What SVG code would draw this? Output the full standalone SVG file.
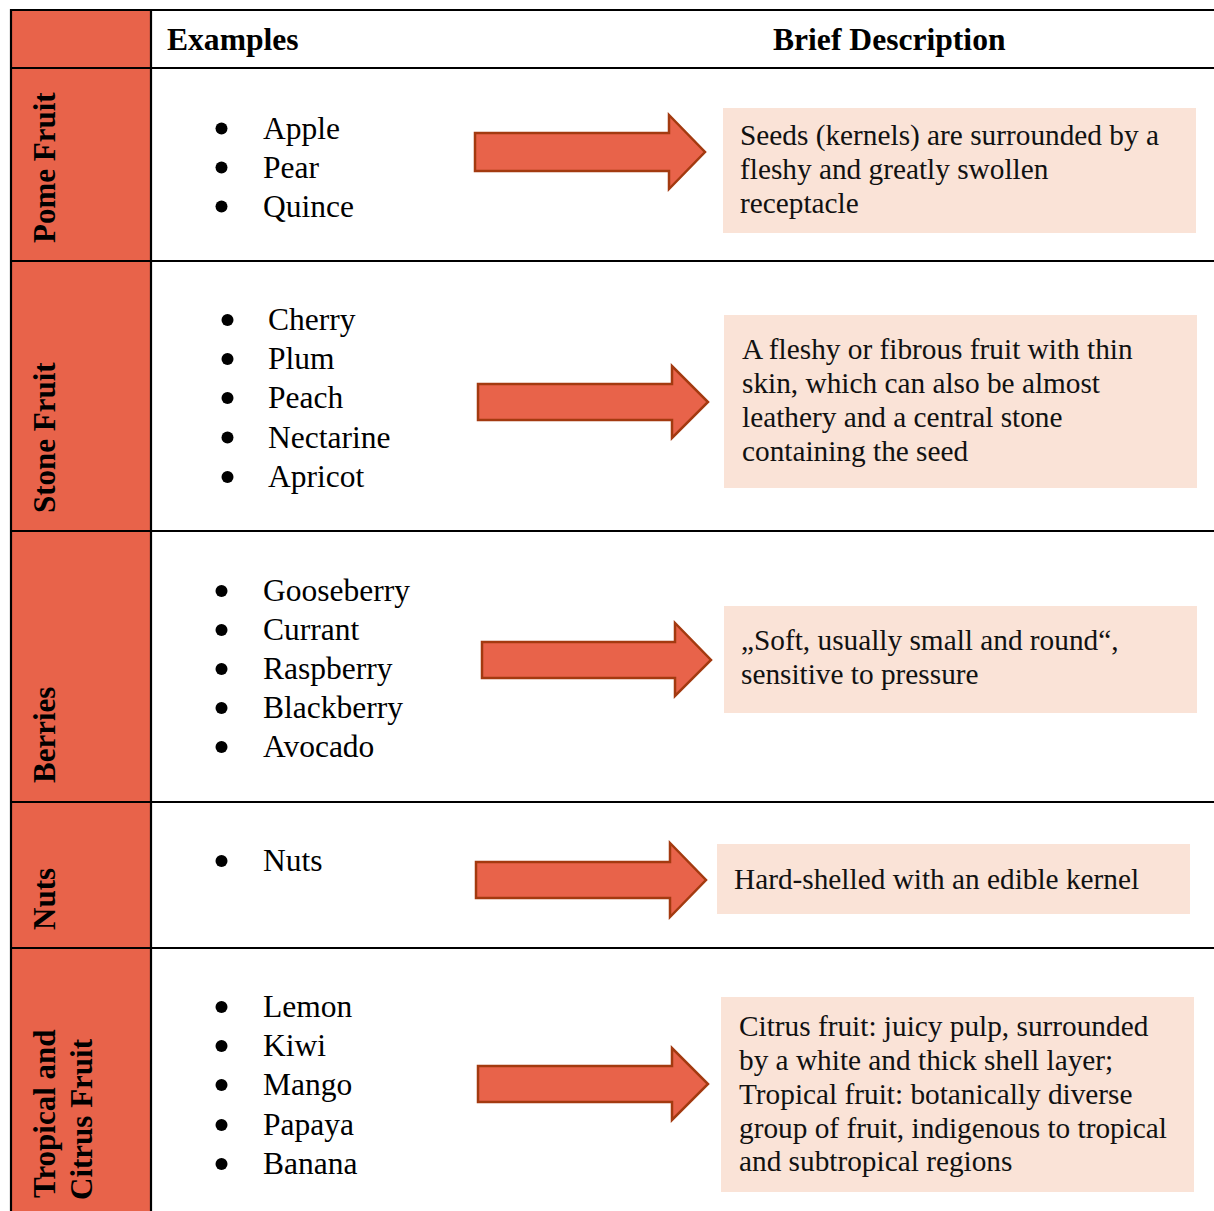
<svg xmlns="http://www.w3.org/2000/svg" width="1214" height="1211" viewBox="0 0 1214 1211">
<style>
.side{fill:#E8634A}
.grid{stroke:#000;stroke-width:2.2;fill:none}
.hdr{font-family:"Liberation Serif",serif;font-weight:bold;font-size:31.6px;fill:#000}
.lbl{font-family:"Liberation Serif",serif;font-weight:bold;font-size:31px;fill:#000}
.item{font-family:"Liberation Serif",serif;font-size:31.5px;fill:#000}
.dot{fill:#000}
.desc{font-family:"Liberation Serif",serif;font-size:29.3px;fill:#111}
.box{fill:#FAE3D7}
.arrow{fill:#E8634A;stroke:#A33A10;stroke-width:2.5;stroke-linejoin:miter}
</style>
<rect width="1214" height="1211" fill="#fff"/>
<g id="left-column">
<rect class="side" x="11" y="10" width="140" height="1201"/>
</g>
<g id="header">
<text class="hdr" x="167" y="50">Examples</text>
<text class="hdr" x="773" y="50">Brief Description</text>
</g>
<g id="grid">
<line class="grid" x1="11" y1="10" x2="1214" y2="10"/>
<line class="grid" x1="11" y1="68" x2="1214" y2="68"/>
<line class="grid" x1="11" y1="261" x2="1214" y2="261"/>
<line class="grid" x1="11" y1="531" x2="1214" y2="531"/>
<line class="grid" x1="11" y1="802" x2="1214" y2="802"/>
<line class="grid" x1="11" y1="948" x2="1214" y2="948"/>
<line class="grid" x1="11" y1="9" x2="11" y2="1211"/>
<line class="grid" x1="151" y1="9" x2="151" y2="1211"/>
</g>
<g id="row-pome">
<text class="lbl" transform="translate(55,243) rotate(-90)">Pome Fruit</text>
<circle class="dot" cx="221.5" cy="128.5" r="6"/>
<circle class="dot" cx="221.5" cy="167.5" r="6"/>
<circle class="dot" cx="221.5" cy="206.5" r="6"/>
<text class="item" x="263" y="138.5">Apple</text>
<text class="item" x="263" y="177.5">Pear</text>
<text class="item" x="263" y="216.5">Quince</text>
<rect class="box" x="723" y="108" width="473" height="125"/>
<text class="desc" x="740" y="145">Seeds (kernels) are surrounded by a</text>
<text class="desc" x="740" y="179">fleshy and greatly swollen</text>
<text class="desc" x="740" y="213">receptacle</text>
</g>
<g id="row-stone">
<text class="lbl" transform="translate(55,513) rotate(-90)">Stone Fruit</text>
<circle class="dot" cx="227.5" cy="320" r="6"/>
<circle class="dot" cx="227.5" cy="359" r="6"/>
<circle class="dot" cx="227.5" cy="398" r="6"/>
<circle class="dot" cx="227.5" cy="437.5" r="6"/>
<circle class="dot" cx="227.5" cy="477" r="6"/>
<text class="item" x="268" y="330">Cherry</text>
<text class="item" x="268" y="369">Plum</text>
<text class="item" x="268" y="408">Peach</text>
<text class="item" x="268" y="447.5">Nectarine</text>
<text class="item" x="268" y="487">Apricot</text>
<rect class="box" x="724" y="315" width="473" height="173"/>
<text class="desc" x="742" y="359">A fleshy or fibrous fruit with thin</text>
<text class="desc" x="742" y="393">skin, which can also be almost</text>
<text class="desc" x="742" y="427">leathery and a central stone</text>
<text class="desc" x="742" y="461">containing the seed</text>
</g>
<g id="row-berries">
<text class="lbl" transform="translate(55,783) rotate(-90)">Berries</text>
<circle class="dot" cx="221.5" cy="591" r="6"/>
<circle class="dot" cx="221.5" cy="630" r="6"/>
<circle class="dot" cx="221.5" cy="669" r="6"/>
<circle class="dot" cx="221.5" cy="708" r="6"/>
<circle class="dot" cx="221.5" cy="747" r="6"/>
<text class="item" x="263" y="601">Gooseberry</text>
<text class="item" x="263" y="640">Currant</text>
<text class="item" x="263" y="679">Raspberry</text>
<text class="item" x="263" y="718">Blackberry</text>
<text class="item" x="263" y="757">Avocado</text>
<rect class="box" x="724" y="606" width="473" height="107"/>
<text class="desc" x="741" y="650">„Soft, usually small and round“,</text>
<text class="desc" x="741" y="684">sensitive to pressure</text>
</g>
<g id="row-nuts">
<text class="lbl" transform="translate(55,930) rotate(-90)">Nuts</text>
<circle class="dot" cx="221.5" cy="861" r="6"/>
<text class="item" x="263" y="871">Nuts</text>
<rect class="box" x="717" y="844" width="473" height="70"/>
<text class="desc" x="734" y="889">Hard-shelled with an edible kernel</text>
</g>
<g id="row-tropical">
<text class="lbl" transform="translate(55,1198) rotate(-90)">Tropical and</text>
<text class="lbl" transform="translate(92,1200) rotate(-90)">Citrus Fruit</text>
<circle class="dot" cx="221.5" cy="1007" r="6"/>
<circle class="dot" cx="221.5" cy="1046" r="6"/>
<circle class="dot" cx="221.5" cy="1085" r="6"/>
<circle class="dot" cx="221.5" cy="1125" r="6"/>
<circle class="dot" cx="221.5" cy="1164" r="6"/>
<text class="item" x="263" y="1017">Lemon</text>
<text class="item" x="263" y="1056">Kiwi</text>
<text class="item" x="263" y="1095">Mango</text>
<text class="item" x="263" y="1135">Papaya</text>
<text class="item" x="263" y="1174">Banana</text>
<rect class="box" x="721" y="997" width="473" height="195"/>
<text class="desc" x="739" y="1036">Citrus fruit: juicy pulp, surrounded</text>
<text class="desc" x="739" y="1070">by a white and thick shell layer;</text>
<text class="desc" x="739" y="1104">Tropical fruit: botanically diverse</text>
<text class="desc" x="739" y="1138">group of fruit, indigenous to tropical</text>
<text class="desc" x="739" y="1171">and subtropical regions</text>
</g>
<g id="connectors">
<path class="arrow" d="M475,133 H669 V115 L705,152 L669,189 V171 H475 Z"/>
<path class="arrow" d="M478,384 H672 V366 L708,402 L672,438 V420 H478 Z"/>
<path class="arrow" d="M482,642 H675 V623 L711,660 L675,696 V678 H482 Z"/>
<path class="arrow" d="M476,862 H670 V843 L706,880 L670,917 V898 H476 Z"/>
<path class="arrow" d="M478,1066 H672 V1048 L708,1084 L672,1120 V1102 H478 Z"/>
</g>
</svg>
